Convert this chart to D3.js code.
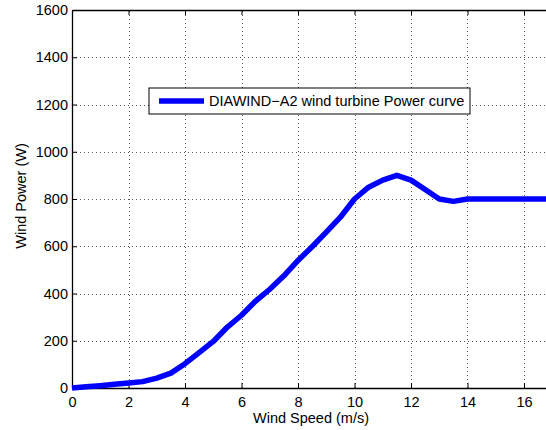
<!DOCTYPE html>
<html>
<head>
<meta charset="utf-8">
<script src="https://cdn.jsdelivr.net/npm/d3@7"></script>
<style>
  body { margin: 0; background: #fff; }
  svg { display: block; font-family: "Liberation Sans", Arial, sans-serif; }
</style>
</head>
<body>
<svg id="chart" width="546" height="430"></svg>
<script>
// wind speed (m/s) and power (W)
const speed = [0, 0.5, 1, 1.5, 2, 2.5, 3, 3.5, 4, 4.5, 5, 5.5, 6, 6.5, 7, 7.5, 8, 8.5, 9, 9.5, 10, 10.5, 11, 11.5, 12, 12.5, 13, 13.5, 14, 15, 16, 17];
const power = [0, 5, 10, 16, 21, 27, 42, 63, 103, 150, 197, 258, 308, 368, 418, 475, 540, 598, 660, 723, 800, 850, 880, 900, 880, 840, 800, 790, 800, 800, 800, 800];
const xTicks = [0, 2, 4, 6, 8, 10, 12, 14, 16];
const yTicks = [0, 200, 400, 600, 800, 1000, 1200, 1400, 1600];
const seriesName = "DIAWIND\u2212A2 wind turbine Power curve";

const svg = d3.select("#chart");
const margin = {left: 72, top: 10, bottom: 42};
const height = 430;
const fontSize = "14.5px";

// the plot box runs off the right edge of the figure
const x = d3.scaleLinear().domain([0, 17]).range([margin.left, margin.left + 17 * 28.25]);
const y = d3.scaleLinear().domain([0, 1600]).range([height - margin.bottom, margin.top]);
const x0 = x(0), x1 = x(17), y0 = y(0), y1 = y(1600);

// dotted grid
const grid = svg.append("g").attr("stroke", "#555").attr("stroke-width", 1)
  .attr("stroke-dasharray", "1,3").attr("shape-rendering", "crispEdges");
grid.selectAll(".gx").data(xTicks.slice(1)).enter().append("line")
  .attr("x1", d => Math.round(x(d)) + 0.5).attr("x2", d => Math.round(x(d)) + 0.5)
  .attr("y1", y0).attr("y2", y1);
grid.selectAll(".gy").data(yTicks.slice(1, -1)).enter().append("line")
  .attr("y1", d => Math.round(y(d)) + 0.5).attr("y2", d => Math.round(y(d)) + 0.5)
  .attr("x1", x0).attr("x2", x1);

// axes
const xAxis = svg.append("g").attr("transform", `translate(0,${y0})`)
  .call(d3.axisBottom(x).tickValues(xTicks).tickFormat(d3.format("d"))
    .tickSizeInner(-5).tickSizeOuter(0).tickPadding(9));
const yAxis = svg.append("g").attr("transform", `translate(${x0},0)`)
  .call(d3.axisLeft(y).tickValues(yTicks).tickFormat(d3.format("d"))
    .tickSizeInner(-5).tickSizeOuter(0).tickPadding(4));
const topAxis = svg.append("g").attr("transform", `translate(0,${y1})`)
  .call(d3.axisTop(x).tickValues(xTicks).tickSizeInner(-5).tickSizeOuter(0).tickFormat(""));

[xAxis, yAxis, topAxis].forEach(a => {
  a.attr("font-family", null).attr("font-size", null);
  a.selectAll("path").attr("stroke", "#000").attr("stroke-width", 1.3);
  a.selectAll("line").attr("stroke", "#000");
  a.selectAll("text").attr("fill", "#000").style("font-size", fontSize);
});

// power curve
const line = d3.line().x((d, i) => x(speed[i])).y(d => y(d));
svg.append("path").datum(power)
  .attr("fill", "none").attr("stroke", "#0000ff").attr("stroke-width", 5.5)
  .attr("stroke-linejoin", "round")
  .attr("d", line);

// axis labels
svg.append("text").attr("x", 311).attr("y", 423).attr("text-anchor", "middle")
  .style("font-size", fontSize).text("Wind Speed (m/s)");
svg.append("text").attr("transform", "translate(26,196) rotate(-90)").attr("text-anchor", "middle")
  .style("font-size", fontSize).text("Wind Power (W)");

// legend
const lg = svg.append("g").attr("transform", "translate(149,88)");
lg.append("rect").attr("width", 321).attr("height", 26)
  .attr("fill", "#fff").attr("stroke", "#000").attr("stroke-width", 1);
lg.append("line").attr("x1", 10).attr("x2", 55).attr("y1", 13).attr("y2", 13)
  .attr("stroke", "#0000ff").attr("stroke-width", 5.5);
lg.append("text").attr("x", 60).attr("y", 18).style("font-size", fontSize).text(seriesName);
</script>
</body>
</html>
